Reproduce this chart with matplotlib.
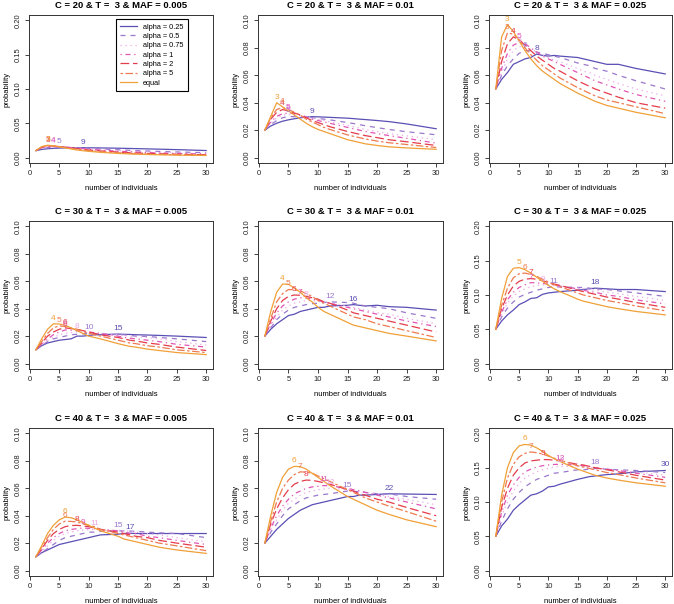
import numpy as np
import matplotlib.pyplot as plt
from matplotlib.lines import Line2D

plt.rcParams['font.family'] = ['Liberation Sans', 'DejaVu Sans']

# number of individuals (x values)
n_ind = [1, 2, 3, 4, 5, 6, 7, 8, 9, 10, 11, 12, 15, 16, 17, 18, 20, 22, 25, 30]

series_names = ['alpha = 0.25', 'alpha = 0.5', 'alpha = 0.75', 'alpha = 1',
                'alpha = 2', 'alpha = 5', 'equal']
colors = ['#5a4fb5', '#9a78cc', '#eaaae8', '#e055b5', '#e43c4c', '#ee7a50', '#f0a038']
styles = ['-', (0, (4, 4)), (0, (1, 3)), (0, (1, 3, 4, 3)), (0, (7, 3)),
          (0, (2, 2, 6, 2)), '-']

cov_vals = [20, 30, 40]
maf_vals = ['0.005', '0.01', '0.025']
ymax_vals = [[0.2, 0.1, 0.1], [0.1, 0.1, 0.2], [0.1, 0.1, 0.2]]

# each panel: rows in order alpha 0.25, 0.5, 0.75, 1, 2, 5, equal
c20_maf005 = [
    [.010, .0118, .0128, .0134, .0138, .014, .0141, .0142, .0143, .0142, .0141, .014, .0136, .0134, .0132, .013, .0126, .0122, .0115, .0102],
    [.010, .013, .0143, .0148, .015, .0149, .0146, .0143, .014, .0135, .013, .0126, .0113, .0109, .0105, .0101, .0095, .0089, .0081, .0071],
    [.010, .014, .0152, .0155, .0153, .015, .0146, .014, .0135, .0128, .0122, .0116, .0102, .0097, .0093, .0089, .0082, .0076, .0068, .0059],
    [.010, .0145, .0158, .016, .0157, .015, .0145, .0138, .013, .0122, .0115, .0108, .0092, .0088, .0083, .0079, .0072, .0066, .0059, .005],
    [.010, .015, .017, .0168, .016, .015, .014, .013, .012, .011, .0103, .0096, .008, .0075, .007, .0066, .006, .0055, .0048, .004],
    [.010, .0155, .0175, .017, .016, .0148, .0135, .0122, .011, .010, .0093, .0086, .007, .0065, .006, .0056, .005, .0046, .004, .0034],
    [.010, .016, .018, .017, .0155, .014, .0125, .011, .010, .009, .0083, .0076, .006, .0056, .0052, .0049, .0044, .004, .0035, .003],
]
c20_maf01 = [
    [.020, .023, .025, .0265, .0275, .0283, .029, .0295, .0298, .0297, .0295, .0293, .0287, .0284, .028, .0277, .027, .0262, .0245, .021],
    [.020, .024, .027, .029, .030, .0298, .0296, .0293, .029, .0285, .028, .0275, .0255, .0248, .024, .0232, .0218, .0205, .0188, .0166],
    [.020, .025, .029, .031, .0315, .0313, .031, .030, .029, .028, .027, .026, .0235, .0225, .0215, .0205, .019, .0175, .0158, .013],
    [.020, .026, .030, .032, .0325, .032, .031, .0295, .028, .027, .026, .025, .022, .021, .020, .019, .0175, .016, .014, .0105],
    [.020, .028, .033, .035, .034, .0325, .031, .029, .027, .0255, .024, .0225, .019, .018, .017, .016, .0145, .013, .0115, .0088],
    [.020, .029, .035, .0365, .035, .033, .031, .028, .026, .024, .022, .0205, .0165, .0155, .0145, .0135, .012, .0108, .0095, .0073],
    [.020, .030, .040, .037, .034, .031, .028, .025, .0225, .0205, .019, .0175, .013, .012, .011, .010, .0088, .0078, .007, .006],
]
c20_maf025 = [
    [.050, .057, .062, .068, .070, .072, .073, .0755, .0745, .074, .0745, .074, .073, .072, .071, .070, .068, .068, .065, .061],
    [.050, .060, .067, .072, .076, .078, .0778, .077, .076, .075, .074, .073, .069, .068, .067, .065, .063, .060, .056, .050],
    [.050, .062, .072, .078, .081, .080, .079, .077, .075, .073, .071, .070, .065, .063, .062, .060, .057, .054, .050, .045],
    [.050, .065, .076, .082, .084, .083, .080, .077, .074, .072, .070, .068, .062, .060, .058, .056, .053, .050, .046, .041],
    [.050, .070, .083, .088, .086, .082, .078, .074, .071, .068, .065, .063, .056, .054, .052, .050, .047, .044, .040, .036],
    [.050, .078, .091, .090, .086, .080, .075, .071, .067, .064, .061, .058, .051, .049, .047, .045, .042, .040, .037, .032],
    [.050, .088, .097, .092, .085, .078, .072, .067, .063, .060, .057, .054, .047, .045, .043, .041, .038, .036, .033, .029],
]
c30_maf005 = [
    [.010, .013, .015, .016, .017, .0175, .018, .020, .020, .0205, .021, .021, .0215, .0213, .0212, .021, .0208, .0205, .020, .019],
    [.010, .013, .016, .018, .019, .020, .021, .0213, .0217, .022, .0218, .0216, .021, .021, .0205, .020, .0198, .019, .018, .016],
    [.010, .014, .017, .019, .021, .022, .0225, .023, .0228, .0225, .022, .0218, .021, .0205, .020, .0195, .019, .018, .016, .0135],
    [.010, .0145, .018, .021, .023, .0245, .0243, .024, .0235, .023, .0225, .022, .020, .019, .0185, .018, .017, .016, .014, .012],
    [.010, .015, .020, .023, .025, .026, .0255, .025, .024, .023, .022, .021, .019, .018, .017, .0165, .015, .014, .012, .0095],
    [.010, .016, .022, .026, .0275, .027, .026, .025, .0235, .022, .021, .020, .017, .016, .015, .0145, .013, .012, .010, .008],
    [.010, .018, .025, .029, .0288, .028, .026, .024, .022, .020, .019, .018, .0145, .0135, .0125, .012, .0105, .0095, .008, .0065],
]
c30_maf01 = [
    [.020, .025, .029, .032, .035, .036, .038, .039, .040, .041, .041, .042, .0425, .043, .0425, .042, .0425, .0415, .041, .039],
    [.020, .026, .032, .036, .039, .041, .042, .043, .0437, .044, .0445, .045, .0445, .044, .043, .042, .041, .040, .037, .033],
    [.020, .028, .034, .039, .042, .044, .045, .046, .0458, .0455, .045, .044, .042, .041, .040, .039, .037, .036, .033, .029],
    [.020, .029, .037, .042, .045, .047, .048, .0478, .047, .046, .045, .044, .041, .040, .039, .038, .036, .034, .031, .027],
    [.020, .031, .040, .046, .049, .050, .0498, .049, .048, .047, .045, .044, .039, .037, .036, .035, .033, .031, .028, .023],
    [.020, .033, .045, .051, .054, .0538, .053, .051, .049, .046, .044, .042, .036, .034, .033, .032, .029, .027, .024, .019],
    [.020, .038, .052, .058, .0578, .055, .052, .048, .045, .041, .038, .036, .030, .028, .027, .026, .024, .022, .020, .0165],
]
c30_maf025 = [
    [.050, .062, .071, .078, .086, .090, .095, .096, .101, .103, .104, .105, .107, .108, .109, .110, .109, .108, .108, .105],
    [.050, .068, .081, .090, .097, .101, .104, .107, .109, .111, .112, .1118, .111, .111, .110, .109, .108, .106, .103, .098],
    [.050, .072, .088, .098, .105, .109, .112, .114, .115, .1148, .114, .113, .110, .109, .108, .107, .104, .102, .098, .092],
    [.050, .075, .093, .104, .111, .115, .118, .1178, .117, .116, .115, .113, .109, .107, .105, .104, .100, .098, .093, .087],
    [.050, .080, .100, .113, .120, .123, .124, .123, .121, .118, .116, .114, .107, .105, .103, .101, .097, .094, .089, .082],
    [.050, .085, .110, .125, .131, .132, .130, .127, .123, .119, .115, .112, .103, .100, .098, .096, .092, .089, .084, .077],
    [.050, .095, .127, .139, .140, .137, .132, .126, .120, .114, .109, .105, .094, .091, .089, .087, .083, .080, .076, .071],
]
c40_maf005 = [
    [.010, .013, .015, .017, .019, .020, .021, .022, .023, .024, .025, .026, .0265, .027, .0272, .027, .027, .027, .027, .027],
    [.010, .013, .016, .019, .022, .024, .025, .026, .027, .028, .028, .0285, .029, .0289, .0288, .0286, .028, .0275, .027, .024],
    [.010, .014, .018, .022, .025, .027, .028, .029, .0295, .0298, .030, .0298, .029, .029, .0285, .028, .027, .026, .024, .021],
    [.010, .015, .020, .024, .027, .029, .030, .0305, .031, .0308, .0305, .030, .029, .028, .027, .027, .025, .024, .022, .019],
    [.010, .016, .022, .027, .030, .032, .0328, .033, .0325, .032, .031, .030, .028, .027, .026, .025, .024, .022, .020, .017],
    [.010, .017, .024, .030, .034, .036, .0358, .0355, .034, .033, .032, .030, .027, .026, .025, .024, .022, .020, .018, .0145],
    [.010, .018, .027, .033, .037, .039, .0385, .037, .035, .033, .031, .029, .025, .023, .022, .021, .019, .017, .015, .0125],
]
c40_maf01 = [
    [.020, .025, .030, .034, .038, .041, .044, .046, .048, .049, .050, .051, .054, .054, .055, .055, .0555, .056, .0558, .0555],
    [.020, .028, .034, .040, .045, .048, .051, .053, .054, .055, .0555, .056, .058, .0578, .0575, .057, .056, .056, .054, .052],
    [.020, .030, .037, .044, .049, .052, .055, .057, .058, .059, .0595, .060, .059, .0588, .058, .057, .056, .054, .052, .048],
    [.020, .031, .040, .047, .052, .056, .058, .060, .061, .0615, .062, .0618, .060, .059, .058, .057, .055, .053, .050, .045],
    [.020, .034, .045, .053, .059, .063, .065, .066, .0658, .065, .064, .063, .059, .058, .056, .055, .052, .050, .046, .040],
    [.020, .036, .050, .060, .066, .070, .072, .0718, .071, .069, .067, .065, .059, .057, .055, .053, .050, .047, .043, .036],
    [.020, .040, .057, .068, .074, .076, .0758, .074, .071, .068, .065, .062, .054, .052, .050, .048, .044, .041, .037, .032],
]
c40_maf025 = [
    [.050, .065, .075, .088, .096, .103, .110, .112, .116, .122, .123, .126, .133, .135, .137, .138, .140, .141, .144, .146],
    [.050, .072, .090, .104, .114, .122, .128, .133, .136, .139, .142, .143, .147, .147, .148, .149, .148, .147, .146, .143],
    [.050, .080, .100, .116, .127, .135, .140, .144, .147, .149, .151, .152, .1518, .151, .150, .150, .148, .146, .144, .139],
    [.050, .085, .110, .125, .136, .144, .148, .151, .153, .154, .1548, .155, .154, .153, .152, .150, .148, .146, .142, .136],
    [.050, .092, .120, .139, .150, .157, .160, .161, .162, .1618, .161, .160, .155, .154, .152, .150, .147, .144, .139, .132],
    [.050, .100, .135, .155, .166, .171, .173, .172, .170, .167, .164, .161, .153, .151, .149, .147, .143, .140, .135, .128],
    [.050, .110, .150, .172, .182, .184, .183, .179, .174, .168, .163, .159, .148, .145, .142, .139, .135, .132, .128, .123],
]

panels = [[c20_maf005, c20_maf01, c20_maf025],
          [c30_maf005, c30_maf01, c30_maf025],
          [c40_maf005, c40_maf01, c40_maf025]]

fig = plt.figure(figsize=(6.74, 6.04), dpi=100)

lefts = [29, 258, 489]
widths = [184, 185, 183]
tops = [15, 221, 428]
H = 148

for r in range(3):
    for c in range(3):
        ax = fig.add_axes([lefts[c] / 674, 1 - (tops[r] + H) / 604,
                           widths[c] / 674, H / 604])
        ymax = ymax_vals[r][c]
        data = panels[r][c]
        for k in range(7):
            ax.plot(n_ind, data[k], color=colors[k], linestyle=styles[k], lw=0.9)
        # peak labels
        for k in range(7):
            i = int(np.argmax(data[k]))
            ax.annotate(str(n_ind[i]), (n_ind[i], data[k][i]), xytext=(0, 1.5),
                        textcoords='offset points', ha='center', va='bottom',
                        color=colors[k], fontsize=6)

        ax.set_xlim(1 - 0.04 * 29, 30 + 0.04 * 29)
        ax.set_ylim(-0.04 * ymax, ymax * 1.04)
        ax.set_xticks(range(0, 31, 5))
        step = 0.05 if ymax > 0.15 else 0.02
        yt = np.arange(0, ymax + step / 2, step)
        ax.set_yticks(yt)
        ax.set_yticklabels(['%.2f' % v for v in yt], rotation=90, va='center')
        ax.tick_params(direction='out', length=3, width=0.6, labelsize=5.5,
                       pad=2, colors='#222222')
        for sp in ax.spines.values():
            sp.set_linewidth(0.7)
            sp.set_color('#333333')
        ax.set_title('C = %d & T =  3 & MAF = %s' % (cov_vals[r], maf_vals[c]),
                     fontweight='bold', fontsize=6.8, pad=5)
        ax.set_xlabel('number of individuals', fontsize=5.5, labelpad=5.5)
        ax.set_ylabel('probability', fontsize=5.5, labelpad=3)

        if r == 0 and c == 0:
            handles = [Line2D([], [], color=colors[k], linestyle=styles[k], lw=0.9)
                       for k in range(7)]
            leg = ax.legend(handles, series_names, loc='upper right',
                            bbox_to_anchor=(0.864, 0.973), fontsize=5.3,
                            fancybox=False, framealpha=1, edgecolor='black',
                            handlelength=2.3, borderpad=0.6, labelspacing=0.3,
                            borderaxespad=0)
            leg.get_frame().set_linewidth(0.8)

fig.savefig('out.png', dpi=100)
